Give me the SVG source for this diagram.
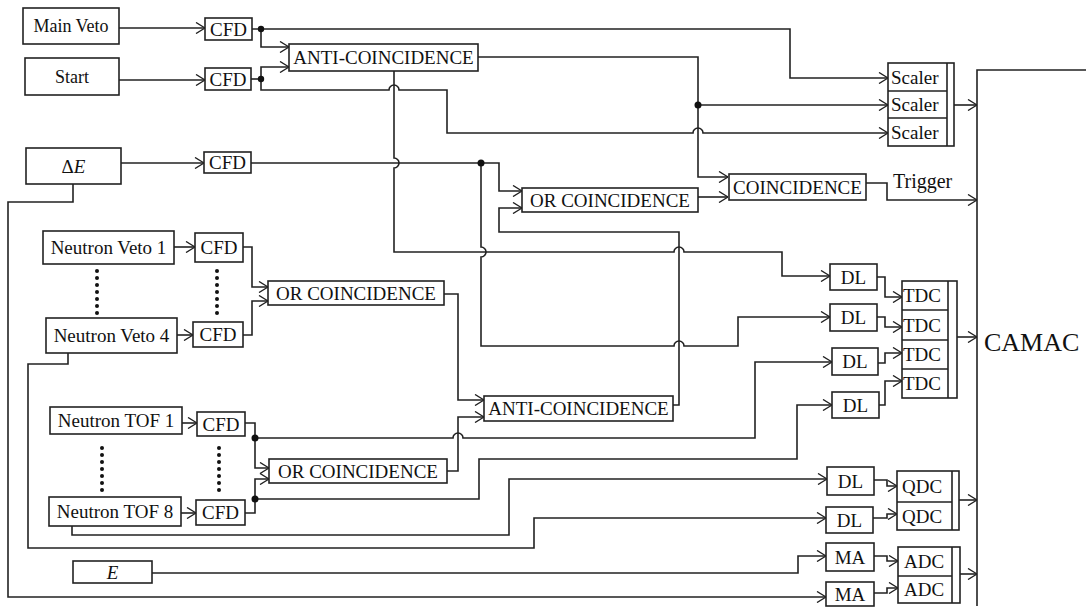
<svg xmlns="http://www.w3.org/2000/svg" width="1086" height="608" viewBox="0 0 1086 608" font-family="'Liberation Serif', 'Times New Roman', Times, 'DejaVu Serif', serif">
<style>
.b{fill:#fff;stroke:#222;stroke-width:1.6}
.w{fill:none;stroke:#222;stroke-width:1.6}
.a{marker-end:url(#ar)}
.t{font-family:'Liberation Serif','Times New Roman',Times,'DejaVu Serif',serif;font-size:19px;fill:#111;text-anchor:middle}
.s{text-anchor:start}
.d{fill:#111}
</style>
<defs>
<marker id="ar" viewBox="0 0 10 12" refX="10" refY="6" markerWidth="10" markerHeight="12" markerUnits="userSpaceOnUse" orient="auto">
<path d="M1,0.5 L10,6 L1,11.5" fill="none" stroke="#222" stroke-width="1.4"/>
</marker>
</defs>
<rect width="1086" height="608" fill="#fff"/>

<g id="connectors">
<path class="w a" d="M119,28 H205"/>
<path class="w a" d="M119,80 H205"/>
<path class="w a" d="M121,163 H204"/>
<path class="w a" d="M252,29 H790 V78 H888"/>
<path class="w a" d="M261,29 V47 H289"/>
<path class="w" d="M251,79 H261"/>
<path class="w a" d="M261,79 V67 H289"/>
<path class="w a" d="M261,79 V90 H389 A5,5 0 0 1 399,90 H447 V133 H693 A5,5 0 0 1 703,133 H888"/>
<path class="w a" d="M478,57 H698 V177 H728"/>
<path class="w a" d="M698,105 H888"/>
<path class="w a" d="M394,71 V158 A5,5 0 0 1 394,168 V252 H674 A5,5 0 0 1 684,252 H782 V276 H830"/>
<path class="w a" d="M251,163 H481 H499 V191 H522"/>
<path class="w a" d="M481,163 V247 A5,5 0 0 1 481,257 V346 H674 A5,5 0 0 1 684,346 H738 V317 H830"/>
<path class="w a" d="M673,405 H679 V232 H499 V208 H522"/>
<path class="w a" d="M698,197 H728"/>
<path class="w a" d="M866,183 H887 V200 H977"/>
<path class="w a" d="M954,105 H977"/>
<path class="w a" d="M877,277 H885 V297 H902"/>
<path class="w a" d="M877,317 H885 V327 H902"/>
<path class="w a" d="M878,363 H885 V353 H902"/>
<path class="w a" d="M879,405 H885 V381 H902"/>
<path class="w a" d="M957,337 H977"/>
<path class="w a" d="M174,247 H195"/>
<path class="w a" d="M177,335 H193"/>
<path class="w a" d="M243,247 H252 V287 H268"/>
<path class="w a" d="M243,335 H252 V301 H268"/>
<path class="w a" d="M444,294 H458 V400 H484"/>
<path class="w a" d="M447,471 H458 V417 H484"/>
<path class="w a" d="M182,423 H197"/>
<path class="w a" d="M181,513 H196"/>
<path class="w a" d="M245,423 H255 V468 H269"/>
<path class="w a" d="M245,513 H255 V479 H269"/>
<path class="w a" d="M255,438 H453 A5,5 0 0 1 463,438 H755 V362 H832"/>
<path class="w a" d="M255,499 H479 V459 H797 V405 H832"/>
<path class="w a" d="M72,526 V535 H509 V479 H827"/>
<path class="w a" d="M68,353 V364 H28 V548 H534 V518 H826"/>
<path class="w a" d="M152,573 H798 V556 H826"/>
<path class="w a" d="M73,184 V202 H8 V597 H826"/>
<path class="w a" d="M874,480 H887 V486 H897"/>
<path class="w a" d="M873,518 H887 V514 H897"/>
<path class="w a" d="M874,556 H887 V561 H898"/>
<path class="w a" d="M874,593 H887 V588 H898"/>
<path class="w a" d="M959,500 H977"/>
<path class="w a" d="M960,574 H977"/>
<path class="w" d="M1086,70 H977 V606"/>
<circle class="d" cx="261" cy="29" r="3.2"/>
<circle class="d" cx="261" cy="79" r="3.2"/>
<circle class="d" cx="698" cy="105" r="3.5"/>
<circle class="d" cx="481" cy="163" r="3.5"/>
<circle class="d" cx="255" cy="438" r="3.5"/>
<circle class="d" cx="255" cy="499" r="3.5"/>
</g>

<g id="main-veto"><rect class="b" x="23" y="8" width="96" height="36"/><text class="t" x="71" y="32" style="font-size:18px">Main Veto</text></g>
<g id="start"><rect class="b" x="25" y="58" width="94" height="37"/><text class="t" x="72" y="83" style="font-size:18px">Start</text></g>
<g id="delta-e"><rect class="b" x="26" y="148" width="95" height="36"/><text class="t" x="73.5" y="172.5">Δ<tspan font-style="italic">E</tspan></text></g>
<g id="cfd-1"><rect class="b" x="205" y="18" width="47" height="22"/><text class="t" x="228.5" y="35.5">CFD</text></g>
<g id="cfd-2"><rect class="b" x="205" y="68" width="46" height="22"/><text class="t" x="228" y="85.5">CFD</text></g>
<g id="cfd-3"><rect class="b" x="204" y="152" width="47" height="21"/><text class="t" x="227.5" y="169">CFD</text></g>
<g id="anti-1"><rect class="b" x="289" y="44" width="189" height="27"/><text class="t" x="383.5" y="64">ANTI-COINCIDENCE</text></g>
<g id="or-1"><rect class="b" x="522" y="188" width="176" height="24"/><text class="t" x="610" y="206.5">OR COINCIDENCE</text></g>
<g id="coincidence"><rect class="b" x="729" y="174" width="137" height="26"/><text class="t" x="797.5" y="193.5">COINCIDENCE</text></g>
<g id="scalers">
<rect class="b" x="888" y="63" width="66" height="83"/>
<path class="w" d="M947,63 V146 M888,91 H947 M888,118 H947"/>
<text class="t s" x="891" y="83.5">Scaler</text>
<text class="t s" x="891" y="111">Scaler</text>
<text class="t s" x="891" y="138.5">Scaler</text>
</g>
<text class="t s" x="893" y="188" style="font-size:20px">Trigger</text>
<text class="t s" x="984" y="351" style="font-size:26px">CAMAC</text>

<g id="neutron-veto-1"><rect class="b" x="43" y="231" width="131" height="33"/><text class="t" x="108.5" y="254">Neutron Veto 1</text></g>
<g id="neutron-veto-4"><rect class="b" x="46" y="318" width="131" height="35"/><text class="t" x="111.5" y="342">Neutron Veto 4</text></g>
<g id="cfd-nv1"><rect class="b" x="195" y="233" width="48" height="29"/><text class="t" x="219" y="254">CFD</text></g>
<g id="cfd-nv4"><rect class="b" x="193" y="322" width="50" height="25"/><text class="t" x="218" y="341">CFD</text></g>
<g id="dots-veto" class="d">
<circle cx="97" cy="271" r="2"/><circle cx="97" cy="278" r="2"/><circle cx="97" cy="285" r="2"/><circle cx="97" cy="292" r="2"/><circle cx="97" cy="299" r="2"/><circle cx="97" cy="306" r="2"/><circle cx="97" cy="313" r="2"/>
<circle cx="217" cy="271" r="2"/><circle cx="217" cy="278" r="2"/><circle cx="217" cy="285" r="2"/><circle cx="217" cy="292" r="2"/><circle cx="217" cy="299" r="2"/><circle cx="217" cy="306" r="2"/><circle cx="217" cy="313" r="2"/>
</g>
<g id="or-2"><rect class="b" x="268" y="281" width="176" height="24"/><text class="t" x="356" y="299.5">OR COINCIDENCE</text></g>

<g id="neutron-tof-1"><rect class="b" x="50" y="407" width="132" height="27"/><text class="t" x="116" y="427">Neutron TOF 1</text></g>
<g id="neutron-tof-8"><rect class="b" x="49" y="497" width="132" height="29"/><text class="t" x="115" y="518">Neutron TOF 8</text></g>
<g id="cfd-t1"><rect class="b" x="197" y="412" width="48" height="24"/><text class="t" x="221" y="430.5">CFD</text></g>
<g id="cfd-t8"><rect class="b" x="196" y="500" width="49" height="25"/><text class="t" x="220.5" y="519">CFD</text></g>
<g id="dots-tof" class="d">
<circle cx="102" cy="448" r="2"/><circle cx="102" cy="455" r="2"/><circle cx="102" cy="462" r="2"/><circle cx="102" cy="469" r="2"/><circle cx="102" cy="476" r="2"/><circle cx="102" cy="483" r="2"/><circle cx="102" cy="490" r="2"/>
<circle cx="219" cy="448" r="2"/><circle cx="219" cy="455" r="2"/><circle cx="219" cy="462" r="2"/><circle cx="219" cy="469" r="2"/><circle cx="219" cy="476" r="2"/><circle cx="219" cy="483" r="2"/><circle cx="219" cy="490" r="2"/>
</g>
<g id="or-3"><rect class="b" x="269" y="459" width="178" height="24"/><text class="t" x="358" y="477.5">OR COINCIDENCE</text></g>
<g id="anti-2"><rect class="b" x="484" y="396" width="189" height="25"/><text class="t" x="578.5" y="415">ANTI-COINCIDENCE</text></g>

<g id="dl-1"><rect class="b" x="830" y="264" width="47" height="26"/><text class="t" x="853.5" y="283.5">DL</text></g>
<g id="dl-2"><rect class="b" x="830" y="304" width="47" height="27"/><text class="t" x="853.5" y="324">DL</text></g>
<g id="dl-3"><rect class="b" x="832" y="348" width="46" height="27"/><text class="t" x="855" y="368">DL</text></g>
<g id="dl-4"><rect class="b" x="832" y="392" width="47" height="26"/><text class="t" x="855.5" y="411.5">DL</text></g>
<g id="tdc">
<rect class="b" x="902" y="281" width="55" height="117"/>
<path class="w" d="M948,281 V398 M902,310 H948 M902,340 H948 M902,369 H948"/>
<text class="t s" x="903" y="302">TDC</text>
<text class="t s" x="903" y="331.5">TDC</text>
<text class="t s" x="903" y="361">TDC</text>
<text class="t s" x="903" y="390">TDC</text>
</g>

<g id="dl-5"><rect class="b" x="827" y="467" width="47" height="28"/><text class="t" x="850.5" y="487.5">DL</text></g>
<g id="dl-6"><rect class="b" x="826" y="507" width="47" height="26"/><text class="t" x="849.5" y="526.5">DL</text></g>
<g id="qdc">
<rect class="b" x="897" y="471" width="62" height="59"/>
<path class="w" d="M952,471 V530 M897,502 H952"/>
<text class="t s" x="902" y="493">QDC</text>
<text class="t s" x="902" y="522.5">QDC</text>
</g>
<g id="ma-1"><rect class="b" x="826" y="543" width="48" height="28"/><text class="t" x="850" y="563.5">MA</text></g>
<g id="ma-2"><rect class="b" x="826" y="582" width="48" height="24"/><text class="t" x="850" y="600.5">MA</text></g>
<g id="adc">
<rect class="b" x="898" y="547" width="62" height="56"/>
<path class="w" d="M952,547 V603 M898,576 H952"/>
<text class="t s" x="904" y="568">ADC</text>
<text class="t s" x="904" y="596">ADC</text>
</g>
<g id="e"><rect class="b" x="73" y="561" width="79" height="22"/><text class="t" x="112.5" y="578.5" font-style="italic">E</text></g>
</svg>
